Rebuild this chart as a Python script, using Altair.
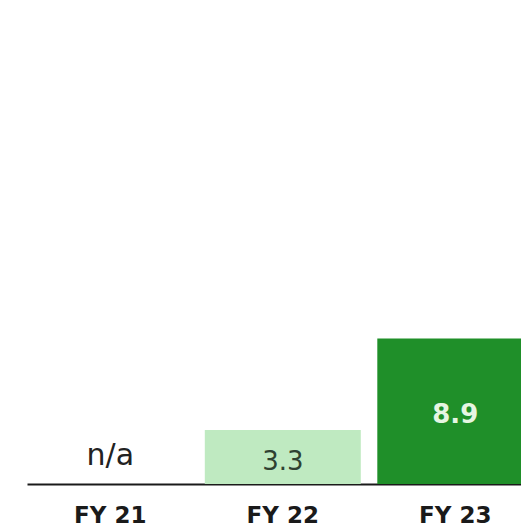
import altair as alt
import pandas as pd

years = ["FY 21", "FY 22", "FY 23"]
values = [None, 3.3, 8.9]
labels = ["n/a", "3.3", "8.9"]
bar_colors = ["#ffffff", "#bfeac1", "#1f8f29"]

df = pd.DataFrame({"year": years, "value": values, "label": labels})

x_enc = alt.X(
    "year:N",
    sort=years,
    scale=alt.Scale(range=[0, 511.6], paddingInner=0.0957, paddingOuter=0.0307),
    axis=alt.Axis(
        title=None, labelAngle=0, ticks=False, tickSize=0, grid=False,
        domainColor="#1a1a1a", domainWidth=2,
        labelFont="DejaVu Sans", labelFontWeight="bold", labelFontSize=23,
        labelColor="#1a1a1a", labelPadding=38, labelBaseline="alphabetic",
    ),
)
y_scale = alt.Scale(domain=[0, 29.6], nice=False, zero=True)

base = alt.Chart(df)

bars = base.transform_filter("isValid(datum.value)").mark_bar(opacity=1).encode(
    x=x_enc,
    y=alt.Y("value:Q", scale=y_scale, axis=None),
    color=alt.Color("year:N", scale=alt.Scale(domain=years, range=bar_colors), legend=None),
)

na_text = base.transform_filter("!isValid(datum.value)").transform_calculate(
    pos="0"
).mark_text(
    font="DejaVu Sans", fontSize=30, color="#222222", baseline="alphabetic", dy=-19
).encode(x=x_enc, y=alt.Y("pos:Q", scale=y_scale, axis=None), text="label:N")

light_text = base.transform_filter("datum.year == 'FY 22'").transform_calculate(
    pos="datum.value / 2"
).mark_text(
    font="DejaVu Sans", fontSize=26, color="#2f4232", baseline="middle", dy=5
).encode(x=x_enc, y=alt.Y("pos:Q", scale=y_scale, axis=None), text="label:N")

dark_text = base.transform_filter("datum.year == 'FY 23'").transform_calculate(
    pos="datum.value / 2"
).mark_text(
    font="DejaVu Sans", fontSize=26, fontWeight="bold", color="#e6f6e2", baseline="middle", dy=4
).encode(x=x_enc, y=alt.Y("pos:Q", scale=y_scale, axis=None), text="label:N")

chart = alt.layer(bars, na_text, light_text, dark_text).properties(
    width=494,
    height=484,
    autosize=alt.AutoSizeParams(type="none"),
    padding={"left": 27, "top": 0, "right": 0, "bottom": 46},
    background="#ffffff",
).configure_view(stroke=None)

chart.save("out.html", embed_options={"renderer": "svg", "actions": False})
